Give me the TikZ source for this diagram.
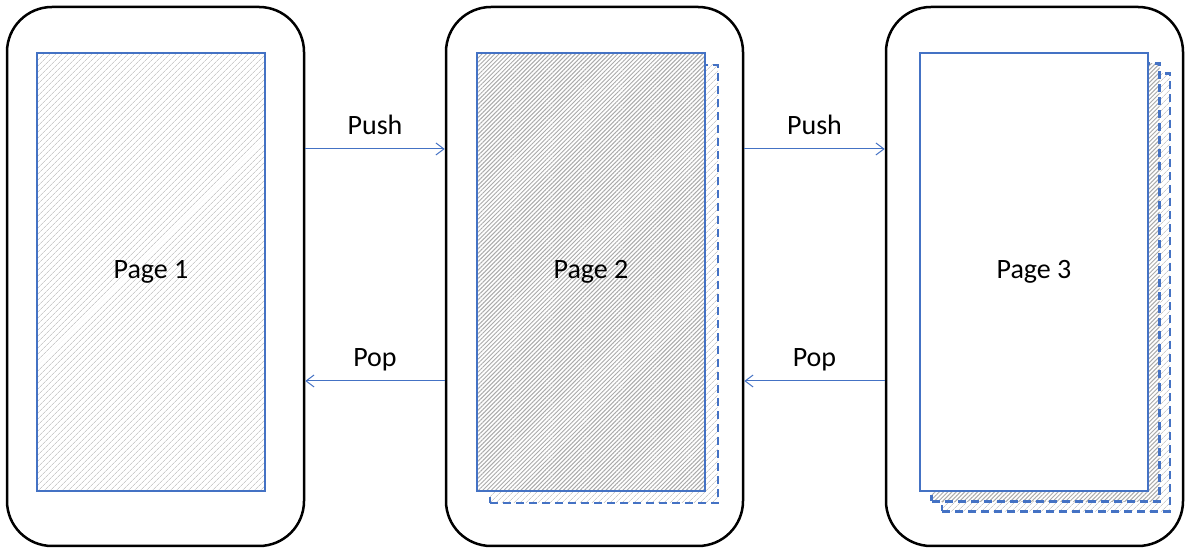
\documentclass[tikz,border=0pt]{standalone}
\usepackage{fontspec}
\setmainfont{Carlito}
\usetikzlibrary{arrows.meta}
\usetikzlibrary{patterns.meta}
\usetikzlibrary{calc}
\definecolor{pageblue}{RGB}{68,114,196}
\tikzstyle{phone}=[draw, line width=2.5pt, rounded corners=45pt, minimum width=297pt, minimum height=539pt, inner sep=0pt]
\tikzstyle{page}=[draw=pageblue, line width=2.5pt, minimum width=228pt, minimum height=438pt, inner sep=0pt, font=\fontsize{28}{34}\selectfont]
\tikzstyle{backpage}=[page, dash pattern=on 8pt off 5pt]
\tikzstyle{lighthatch}=[preaction={fill=white}, pattern={Lines[angle=45, distance=4pt, line width=0.8pt]}, pattern color=black!20]
\tikzstyle{darkhatch}=[preaction={fill=white}, pattern={Lines[angle=45, distance=3pt, line width=1pt]}, pattern color=black!33]
\tikzstyle{link}=[draw=pageblue, line width=1pt, -{Straight Barb[length=8pt, width=12pt]}]
\tikzstyle{linklabel}=[anchor=base, inner sep=0pt, yshift=14pt, font=\fontsize{28}{34}\selectfont]

\begin{document}
\begin{tikzpicture}[x=1pt, y=1pt]
        \useasboundingbox (0, 0) rectangle (1191, 553);
        \node[phone] (ph1) at (155.5, 276.5) {};
        \node[phone] (ph2) at (594.5, 276.5) {};
        \node[phone] (ph3) at (1034.5, 276.5) {};
        % pages behind
        \node[backpage, lighthatch] (pg2b) at (604, 269) {};
        \node[backpage, lighthatch] (pg3c) at (1056, 260.5) {};
        \node[backpage, darkhatch] (pg3b) at (1045.5, 270.5) {};
        % top pages
        \node[page, lighthatch] (pg1) at (151, 281) {Page 1};
        \node[page, darkhatch] (pg2) at (591, 281) {Page 2};
        \node[page, fill=white] (pg3) at (1034, 281) {Page 3};
        \coordinate (up) at (0, 127.5);
        \coordinate (dn) at (0, -104.5);
        \draw[link] ($(ph1.east)+(up)$) -- node[linklabel] {Push} ($(ph2.west)+(up)$);
        \draw[link] ($(ph2.east)+(up)$) -- node[linklabel] {Push} ($(ph3.west)+(up)$);
        \draw[link] ($(ph2.west)+(dn)$) -- node[linklabel] {Pop} ($(ph1.east)+(dn)$);
        \draw[link] ($(ph3.west)+(dn)$) -- node[linklabel] {Pop} ($(ph2.east)+(dn)$);
    \end{tikzpicture}
\end{document}
